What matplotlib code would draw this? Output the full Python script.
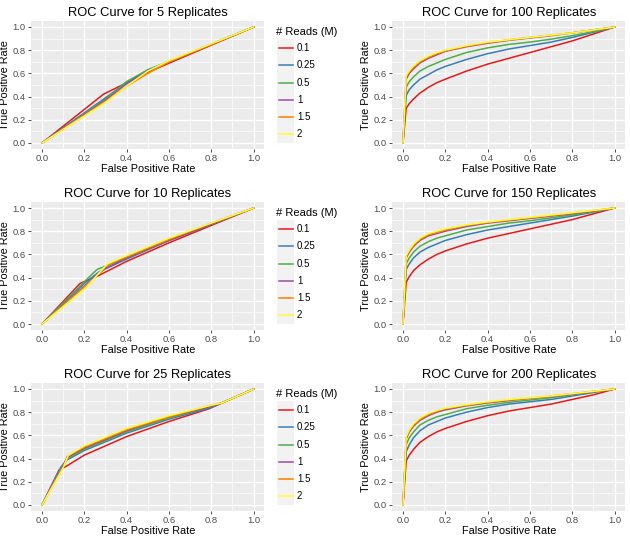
import numpy as np
import matplotlib
matplotlib.use("Agg")
import matplotlib.pyplot as plt
from matplotlib.patches import Rectangle
from matplotlib.lines import Line2D

plt.rcParams['font.family'] = ['Liberation Sans', 'DejaVu Sans']

READS = ["0.1", "0.25", "0.5", "1", "1.5", "2"]
COLORS = ["#E41A1C", "#377EB8", "#4DAF4A", "#984EA3", "#FF7F00", "#FFFF33"]

# ---- low replicate counts: few thresholds, piecewise curves ----
FPR_5 = [[0, 0.29, 0.5, 1],
         [0, 0.3, 0.4, 0.5, 1],
         [0, 0.3, 0.4, 0.5, 1],
         [0, 0.3, 0.4, 0.5, 1],
         [0, 0.3, 0.4, 0.5, 0.6, 1],
         [0, 0.3, 0.4, 0.5, 0.6, 1]]
TPR_5 = [[0, 0.42, 0.61, 1],
         [0, 0.39, 0.52, 0.63, 1],
         [0, 0.38, 0.53, 0.63, 1],
         [0, 0.37, 0.51, 0.62, 1],
         [0, 0.36, 0.49, 0.60, 0.70, 1],
         [0, 0.35, 0.49, 0.62, 0.71, 1]]

FPR_10 = [[0, 0.18, 0.27, 0.4, 0.6, 0.8, 1],
          [0, 0.2, 0.27, 0.4, 0.6, 0.8, 1],
          [0, 0.22, 0.26, 0.4, 0.6, 0.8, 1],
          [0, 0.25, 0.3, 0.4, 0.6, 0.8, 1],
          [0, 0.25, 0.31, 0.4, 0.6, 0.8, 1],
          [0, 0.2, 0.31, 0.4, 0.6, 0.8, 1]]
TPR_10 = [[0, 0.35, 0.42, 0.54, 0.70, 0.85, 1],
          [0, 0.35, 0.45, 0.56, 0.72, 0.86, 1],
          [0, 0.40, 0.47, 0.57, 0.72, 0.86, 1],
          [0, 0.41, 0.48, 0.57, 0.72, 0.86, 1],
          [0, 0.40, 0.51, 0.58, 0.73, 0.87, 1],
          [0, 0.30, 0.52, 0.59, 0.74, 0.87, 1]]

FPR_25 = [[0, 0.08, 0.12, 0.2, 0.4, 0.6, 0.79, 0.85, 1],
          [0, 0.09, 0.12, 0.2, 0.4, 0.6, 0.8, 0.85, 1],
          [0, 0.1, 0.12, 0.2, 0.4, 0.6, 0.8, 0.85, 1],
          [0, 0.1, 0.12, 0.2, 0.4, 0.6, 0.8, 0.85, 1],
          [0, 0.1, 0.12, 0.2, 0.4, 0.6, 0.8, 0.85, 1],
          [0, 0.1, 0.125, 0.2, 0.4, 0.6, 0.8, 0.85, 1]]
TPR_25 = [[0, 0.30, 0.34, 0.43, 0.59, 0.72, 0.83, 0.88, 1],
          [0, 0.33, 0.39, 0.47, 0.62, 0.74, 0.84, 0.88, 1],
          [0, 0.35, 0.40, 0.48, 0.63, 0.75, 0.85, 0.88, 1],
          [0, 0.34, 0.41, 0.49, 0.64, 0.76, 0.85, 0.88, 1],
          [0, 0.33, 0.42, 0.50, 0.65, 0.76, 0.86, 0.88, 1],
          [0, 0.32, 0.43, 0.51, 0.66, 0.77, 0.86, 0.88, 1]]

# ---- high replicate counts: shared threshold grid ----
FPR_HI = [0, 0.015, 0.03, 0.05, 0.08, 0.12, 0.16, 0.2, 0.3, 0.4, 0.5, 0.6, 0.7, 0.8, 0.9, 1]

TPR_100 = [[0, 0.30, 0.34, 0.38, 0.43, 0.48, 0.52, 0.55, 0.62, 0.68, 0.73, 0.78, 0.83, 0.88, 0.94, 1],
           [0, 0.41, 0.46, 0.50, 0.55, 0.59, 0.63, 0.66, 0.72, 0.77, 0.81, 0.84, 0.87, 0.91, 0.955, 1],
           [0, 0.48, 0.53, 0.57, 0.62, 0.66, 0.69, 0.72, 0.78, 0.82, 0.85, 0.87, 0.895, 0.925, 0.96, 1],
           [0, 0.55, 0.60, 0.64, 0.69, 0.73, 0.76, 0.79, 0.83, 0.86, 0.885, 0.905, 0.925, 0.95, 0.975, 1],
           [0, 0.57, 0.615, 0.655, 0.70, 0.74, 0.77, 0.795, 0.835, 0.865, 0.89, 0.91, 0.93, 0.95, 0.975, 1],
           [0, 0.58, 0.625, 0.665, 0.71, 0.75, 0.78, 0.80, 0.84, 0.87, 0.89, 0.91, 0.93, 0.95, 0.975, 1]]

TPR_150 = [[0, 0.36, 0.41, 0.46, 0.51, 0.56, 0.60, 0.63, 0.69, 0.74, 0.78, 0.82, 0.86, 0.90, 0.95, 1],
           [0, 0.47, 0.52, 0.57, 0.62, 0.66, 0.69, 0.72, 0.77, 0.81, 0.84, 0.87, 0.90, 0.93, 0.965, 1],
           [0, 0.52, 0.57, 0.62, 0.67, 0.71, 0.74, 0.76, 0.81, 0.84, 0.87, 0.89, 0.915, 0.94, 0.97, 1],
           [0, 0.57, 0.62, 0.67, 0.72, 0.76, 0.78, 0.80, 0.84, 0.87, 0.89, 0.91, 0.93, 0.95, 0.975, 1],
           [0, 0.58, 0.63, 0.68, 0.73, 0.77, 0.79, 0.81, 0.85, 0.875, 0.895, 0.915, 0.935, 0.955, 0.978, 1],
           [0, 0.59, 0.64, 0.69, 0.74, 0.78, 0.80, 0.82, 0.855, 0.88, 0.90, 0.92, 0.94, 0.96, 0.98, 1]]

TPR_200 = [[0, 0.38, 0.43, 0.48, 0.54, 0.59, 0.63, 0.66, 0.72, 0.77, 0.81, 0.84, 0.87, 0.91, 0.95, 1],
           [0, 0.46, 0.52, 0.58, 0.64, 0.69, 0.72, 0.75, 0.80, 0.84, 0.87, 0.89, 0.91, 0.94, 0.97, 1],
           [0, 0.52, 0.58, 0.63, 0.69, 0.73, 0.76, 0.78, 0.83, 0.86, 0.885, 0.905, 0.925, 0.95, 0.975, 1],
           [0, 0.57, 0.63, 0.68, 0.73, 0.77, 0.80, 0.82, 0.855, 0.88, 0.90, 0.92, 0.935, 0.955, 0.978, 1],
           [0, 0.58, 0.64, 0.69, 0.74, 0.78, 0.81, 0.83, 0.86, 0.885, 0.905, 0.92, 0.94, 0.96, 0.98, 1],
           [0, 0.59, 0.65, 0.70, 0.75, 0.79, 0.815, 0.835, 0.865, 0.89, 0.91, 0.925, 0.94, 0.96, 0.98, 1]]

W, H = 630, 537
fig = plt.figure(figsize=(W / 100, H / 100), dpi=100)

def px(x):
    return x / W

def py(y):
    return 1 - y / H

# panel boxes in pixels
PANEL_W = 232.8
PANEL_H = 127.6
LEFT_X = 31.4
RIGHT_X = 392.4
ROW_TOP = [21.2, 202.2, 383.2]

def style_axes(ax, title):
    ax.set_facecolor("#EBEBEB")
    ax.set_xlim(-0.05, 1.05)
    ax.set_ylim(-0.05, 1.05)
    ticks = [0, 0.2, 0.4, 0.6, 0.8, 1.0]
    labels = ["0.0", "0.2", "0.4", "0.6", "0.8", "1.0"]
    ax.set_xticks(ticks)
    ax.set_yticks(ticks)
    ax.set_xticklabels(labels)
    ax.set_yticklabels(labels)
    ax.set_xticks([0.1, 0.3, 0.5, 0.7, 0.9], minor=True)
    ax.set_yticks([0.1, 0.3, 0.5, 0.7, 0.9], minor=True)
    ax.grid(which="major", color="white", lw=1.0)
    ax.grid(which="minor", color="white", lw=0.5)
    ax.set_axisbelow(True)
    for s in ax.spines.values():
        s.set_visible(False)
    ax.tick_params(which="major", length=2.5, width=0.6, color="#333333",
                   labelsize=6.8, labelcolor="#4D4D4D", pad=1.5)
    ax.tick_params(which="minor", length=0)
    ax.set_title(title, fontsize=9.3, pad=4)
    ax.set_xlabel("False Positive Rate", fontsize=7.8, labelpad=0.5)
    ax.set_ylabel("True Positive Rate", fontsize=7.8, labelpad=2)

def add_legend(top):
    fig.text(px(276), py(top + 10.8), "# Reads (M)", fontsize=8,
             ha="left", va="center")
    key_h = 17.3
    for k in range(len(READS)):
        y0 = top + 18.1 + k * key_h
        fig.patches.append(Rectangle((px(277), py(y0 + key_h)), px(17), key_h / H,
                                     transform=fig.transFigure, facecolor="#F2F2F2",
                                     edgecolor="none"))
        yc = py(y0 + key_h / 2)
        fig.lines.append(Line2D([px(278.5), px(292.5)], [yc, yc], color=COLORS[k],
                                lw=1.1, transform=fig.transFigure))
        fig.text(px(297), yc, READS[k], fontsize=7, ha="left", va="center")

left_sets = [(5, FPR_5, TPR_5), (10, FPR_10, TPR_10), (25, FPR_25, TPR_25)]
right_sets = [(100, TPR_100), (150, TPR_150), (200, TPR_200)]

for r in range(3):
    top = ROW_TOP[r]
    bottom = py(top + PANEL_H)

    n, fprs, tprs = left_sets[r]
    ax = fig.add_axes([px(LEFT_X), bottom, px(PANEL_W), PANEL_H / H])
    style_axes(ax, "ROC Curve for " + str(n) + " Replicates")
    for k in range(len(READS)):
        ax.plot(fprs[k], tprs[k], color=COLORS[k], lw=1.1)
    add_legend(top)

    n, tprs = right_sets[r]
    ax = fig.add_axes([px(RIGHT_X), bottom, px(PANEL_W), PANEL_H / H])
    style_axes(ax, "ROC Curve for " + str(n) + " Replicates")
    for k in range(len(READS)):
        ax.plot(FPR_HI, tprs[k], color=COLORS[k], lw=1.1)

fig.savefig("out.png", dpi=100)
